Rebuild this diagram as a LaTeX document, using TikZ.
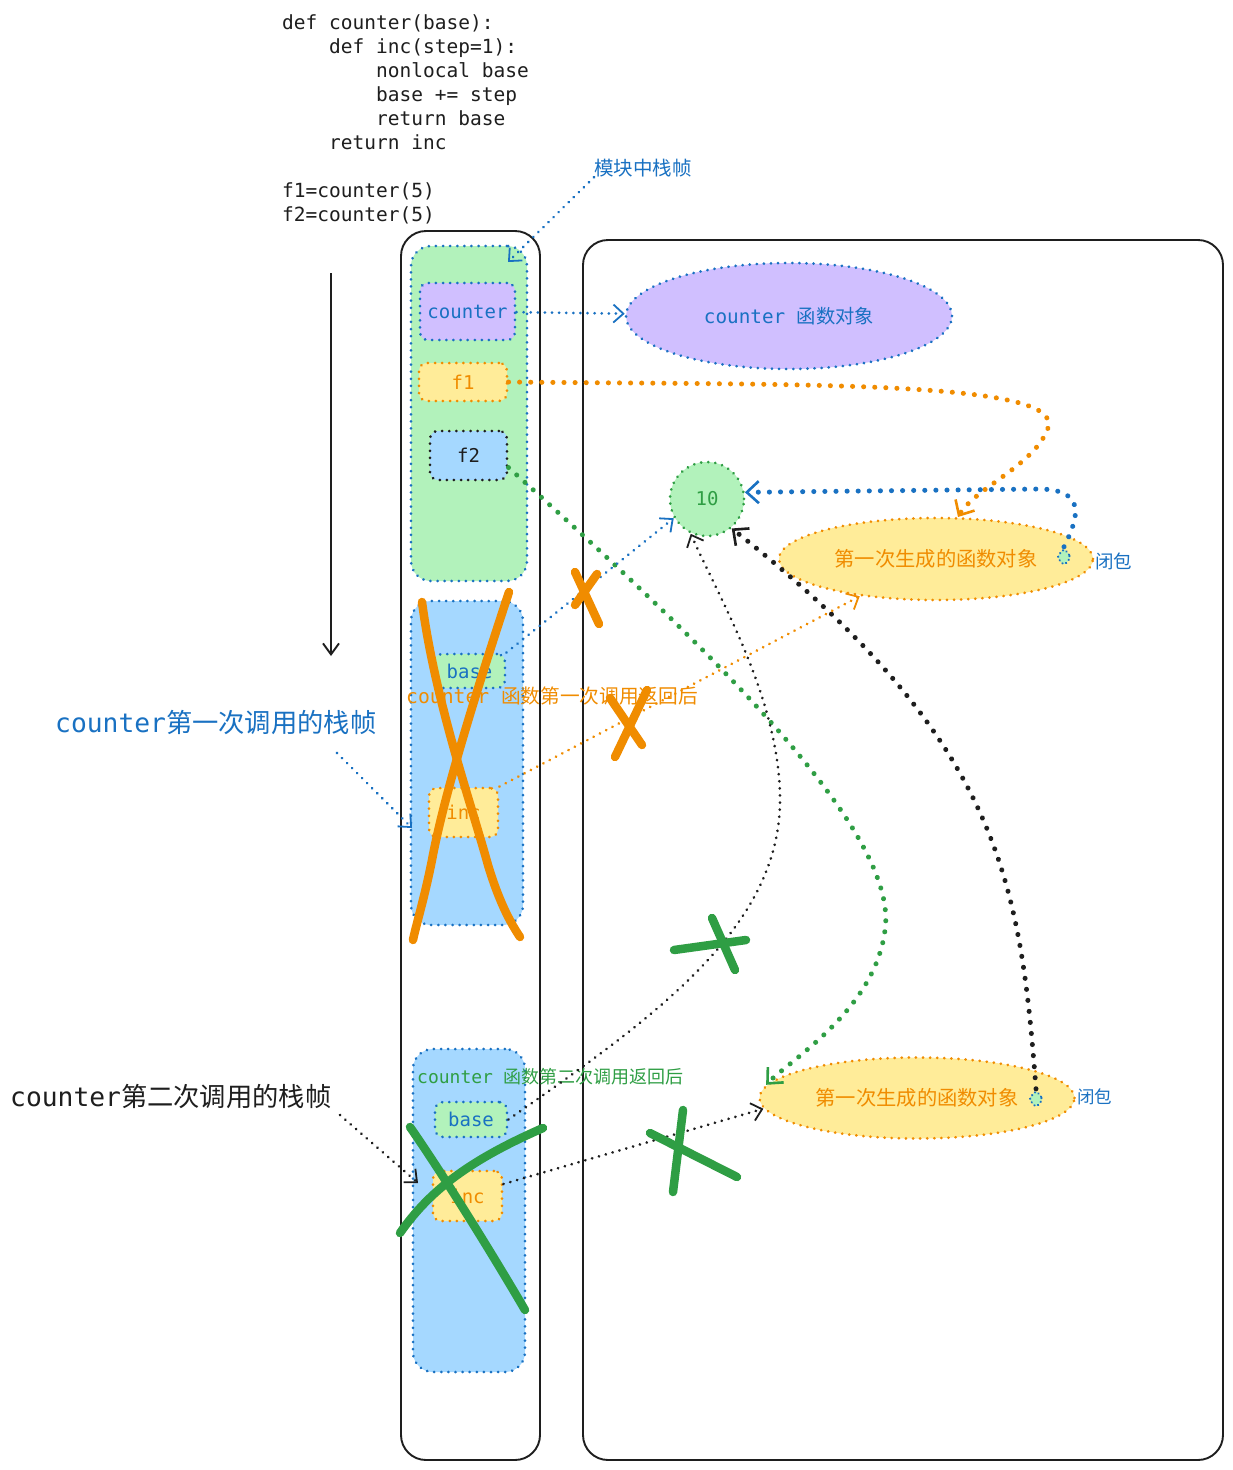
\documentclass[tikz,border=0pt]{standalone}
\usepackage{fontspec}
\setmainfont{Noto Sans CJK SC}
\setmonofont{DejaVu Sans Mono}
\usetikzlibrary{shapes.geometric,arrows.meta,calc}
\definecolor{eblue}{HTML}{1971C2}
\definecolor{egreen}{HTML}{2F9E44}
\definecolor{eorange}{HTML}{F08C00}
\definecolor{eblack}{HTML}{1E1E1E}
\definecolor{fgreen}{HTML}{B2F2BB}
\definecolor{fpurple}{HTML}{D0BFFF}
\definecolor{fyellow}{HTML}{FFEC99}
\definecolor{fblue}{HTML}{A5D8FF}
\newcommand\fs[1]{\fontsize{#1}{#1}\selectfont}
\tikzset{
  thindots/.style={line width=2.9pt, dash pattern=on 0.1pt off 7pt, line cap=round},
  thickdots/.style={line width=5pt, dash pattern=on 0.1pt off 11pt, line cap=round},
  tipthin/.style={-{Straight Barb[length=10pt,width=18pt,line width=1.8pt]}},
  tipthick/.style={-{Straight Barb[length=12pt,width=22pt,line width=2.6pt]}},
  frame/.style={rectangle, rounded corners=20pt, thindots, inner sep=0pt},
  box/.style={rectangle, rounded corners=8pt, thindots, inner sep=0pt, font=\ttfamily\fs{19}},
  oval/.style={ellipse, thindots, inner sep=0pt},
  column/.style={draw=eblack, line width=1.9pt, rounded corners=25pt},
  cross/.style={line width=8.5pt, line cap=round, line join=round},
  blob/.style={diamond, minimum width=15pt, minimum height=18pt, inner sep=0pt, fill=fgreen, draw=eblue, line width=2.4pt, dash pattern=on 0.1pt off 4pt, line cap=round, rounded corners=3pt},
}
\begin{document}
\begin{tikzpicture}[x=1pt,y=-1pt]
\useasboundingbox (0,0) rectangle (1233,1470);
\fill[white] (0,0) rectangle (1233,1470);

% code
\node[anchor=north west, inner sep=0pt, align=left, text=eblack,
      font=\ttfamily\fontsize{19.5}{24}\selectfont] (code) at (282,14)
{def counter(base):\\
\hspace*{47pt}def inc(step=1):\\
\hspace*{94pt}nonlocal base\\
\hspace*{94pt}base += step\\
\hspace*{94pt}return base\\
\hspace*{47pt}return inc\\[24pt]
f1=counter(5)\\
f2=counter(5)};

% columns
\draw[column] (401,231) rectangle (540,1460);
\draw[column] (583,240) rectangle (1223,1460);

% module frame
\node[frame, fill=fgreen, draw=eblue, minimum width=116, minimum height=335] (modframe) at (469,413.5) {};
\node[box, fill=fpurple, draw=eblue, text=eblue, minimum width=95, minimum height=57] (cbox) at (467.5,311.5) {counter};
\node[box, fill=fyellow, draw=eorange, text=eorange, minimum width=88, minimum height=38] (f1) at (463,382) {f1};
\node[box, fill=fblue, draw=eblack, text=eblack, minimum width=77, minimum height=49] (f2) at (468.5,455.5) {f2};

% first call frame
\node[frame, fill=fblue, draw=eblue, minimum width=112, minimum height=324] (frameA) at (467,763) {};
\node[box, fill=fgreen, draw=eblue, text=eblue, minimum width=71, minimum height=34] (baseA) at (469.5,671) {base};
\node[box, fill=fyellow, draw=eorange, text=eorange, minimum width=69, minimum height=49] (incA) at (463.5,812.5) {inc};
\node[anchor=west, inner sep=0pt, text=eorange, font=\fs{19.7}] (retA) at (406,696) {\texttt{counter }函数第一次调用返回后};

% second call frame
\node[frame, fill=fblue, draw=eblue, minimum width=112, minimum height=323] (frameB) at (469,1210.5) {};
\node[box, fill=fgreen, draw=eblue, text=eblue, minimum width=72, minimum height=35] (baseB) at (471,1119.5) {base};
\node[box, fill=fyellow, draw=eorange, text=eorange, minimum width=69, minimum height=50] (incB) at (467.5,1196) {inc};
\node[anchor=west, inner sep=0pt, text=egreen, font=\fs{18}] (retB) at (417,1077) {\texttt{counter }函数第二次调用返回后};

% labels left
\node[anchor=west, inner sep=0pt, text=eblue, font=\fs{26.3}] (labA) at (55,722) {\texttt{counter}第一次调用的栈帧};
\node[anchor=west, inner sep=0pt, text=eblack, font=\fs{26.3}] (labB) at (10,1096) {\texttt{counter}第二次调用的栈帧};
\node[inner sep=0pt, text=eblue, font=\fs{19.5}] (modlabel) at (643,168) {模块中栈帧};

% heap objects
\node[oval, fill=fpurple, draw=eblue, text=eblue, minimum width=326, minimum height=106, font=\fs{19.3}] (cfo) at (789,316) {\texttt{counter }函数对象};
\node[circle, thindots, fill=fgreen, draw=egreen, text=egreen, minimum size=74pt, inner sep=0pt, font=\ttfamily\fs{19}] (c10) at (707,499) {10};
\node[oval, fill=fyellow, draw=eorange, text=eorange, minimum width=314, minimum height=82, font=\fs{20.3}] (e1) at (936,559) {第一次生成的函数对象};
\node[oval, fill=fyellow, draw=eorange, text=eorange, minimum width=315, minimum height=81, font=\fs{20.3}] (e2) at (917,1098) {第一次生成的函数对象};
\node[blob] (blob1) at (1064,557) {};
\node[blob] (blob2) at (1036,1099) {};
\node[anchor=west, inner sep=0pt, text=eblue, font=\fs{18.5}] (clo1) at (1095,561) {闭包};
\node[anchor=west, inner sep=0pt, text=eblue, font=\fs{17.5}] (clo2) at (1077,1097) {闭包};

% free coordinates
\coordinate (modtip) at (508,262);
\coordinate (e1top) at (958,517);
\coordinate (lAs) at (337,753);
\coordinate (lAe) at (412,828);
\coordinate (lBs) at (340,1115);
\coordinate (lBe) at (418,1183);
\coordinate (va1) at (331,273);
\coordinate (va2) at (331,656);

% connectors
\draw[thindots, eblue, tipthin] (modlabel.south west) -- (modtip);
\draw[thindots, eblue, tipthin] (cbox) -- (cfo);
\draw[thickdots, eorange, tipthick] (f1.east) .. controls (800,385) and (1065,380) .. (1048,428) .. controls (1035,465) and (975,488) .. (e1top);
\draw[thickdots, egreen, tipthick] ($(f2.east)+(0,12)$) .. controls (700,640) and (900,830) .. (885,930) .. controls (875,1010) and (790,1060) .. (e2.175);
\draw[thickdots, eblue, tipthick] (blob1.north) .. controls (1080,515) and (1085,490) .. (1040,489) -- (c10.10);
\draw[thickdots, eblack, tipthick] (blob2.north) .. controls (1020,880) and (1000,740) .. (c10.-50);
\draw[thindots, eblue, tipthin] (baseA.north east) -- (c10.210);
\draw[thindots, eorange, tipthin] (incA.north east) -- (e1.206);
\draw[thindots, eblack, tipthin] (baseB.east) .. controls (650,1020) and (780,930) .. (780,800) .. controls (780,700) and (720,600) .. (c10.-115);
\draw[thindots, eblack, tipthin] ($(incB.east)+(0,-12)$) -- (e2.184);
\draw[thindots, eblue, tipthin] (lAs) -- (lAe);
\draw[thindots, eblack, tipthin] (lBs) -- (lBe);
\draw[eblack, line width=1.9pt, -{Straight Barb[length=11pt,width=16pt,line width=1.9pt]}] (va1) -- (va2);

% crosses
\draw[cross, eorange] (422,602) .. controls (435,700) and (470,800) .. (488,865) .. controls (500,905) and (512,925) .. (520,937);
\draw[cross, eorange] (509,592) .. controls (480,680) and (445,790) .. (432,860) .. controls (424,900) and (416,925) .. (413,940);
\draw[cross, eorange] (575,572) -- (599,624);
\draw[cross, eorange] (597,574) -- (575,605);
\draw[cross, eorange] (615,757) -- (647,690);
\draw[cross, eorange] (610,698) -- (642,745);
\draw[cross, egreen] (674,950) -- (746,940);
\draw[cross, egreen] (712,918) -- (735,970);
\draw[cross, egreen] (650,1133) -- (737,1177);
\draw[cross, egreen] (683,1110) -- (673,1192);
\draw[cross, egreen] (410,1127) .. controls (440,1170) and (490,1250) .. (525,1310);
\draw[cross, egreen] (543,1128) .. controls (470,1160) and (430,1190) .. (400,1233);
\end{tikzpicture}
\end{document}
